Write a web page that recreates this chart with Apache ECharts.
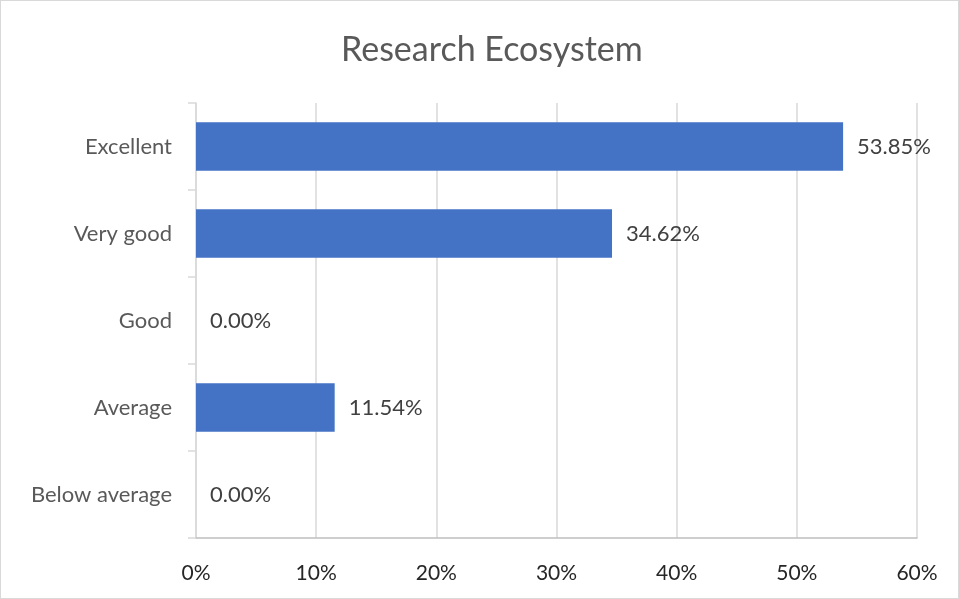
<!DOCTYPE html>
<html><head><meta charset="utf-8">
<script src="https://cdn.jsdelivr.net/npm/echarts@6/dist/echarts.min.js"></script>
<style>html,body{margin:0;padding:0;background:#fff}#c{width:957px;height:597px;border:1px solid #d9d9d9}</style>
</head><body><div id="c"></div>
<script>
const categories = ['Excellent', 'Very good', 'Good', 'Average', 'Below average'];
const values = [53.85, 34.62, 0.00, 11.54, 0.00];
const xTicks = [0, 10, 20, 30, 40, 50, 60];
const title = 'Research Ecosystem';

const chart = echarts.init(document.getElementById('c'), null, {renderer: 'canvas'});
const font = "Lato, 'Open Sans', sans-serif";
chart.setOption({
  animation: false,
  title: {text: title, left: 335, top: 27,
    textStyle: {fontFamily: font, fontSize: 34, fontWeight: 'normal', color: '#595959'}},
  grid: {left: 195, right: 41, top: 102, bottom: 60, containLabel: false},
  xAxis: {type: 'value', min: xTicks[0], max: xTicks[xTicks.length - 1], interval: 10,
    axisLine: {show: true, lineStyle: {color: '#bfbfbf', width: 1.5}},
    axisTick: {show: false},
    splitLine: {show: true, lineStyle: {color: '#d9d9d9', width: 1.5}},
    axisLabel: {formatter: v => v + '%', margin: 25, fontFamily: font, fontSize: 21, color: '#262626'}},
  yAxis: {type: 'category', data: categories, inverse: true,
    axisLine: {show: true, lineStyle: {color: '#d9d9d9', width: 1.5}},
    axisTick: {show: true, length: 8, lineStyle: {color: '#d9d9d9', width: 1.5}},
    axisLabel: {margin: 24, fontFamily: font, fontSize: 22, color: '#595959'}},
  series: [{type: 'bar', data: values, barCategoryGap: '44%',
    itemStyle: {color: '#4472c4'},
    label: {show: true, position: 'right', distance: 14, formatter: p => p.value.toFixed(2) + '%',
      fontFamily: font, fontSize: 22, color: '#404040'}}]
});
</script></body></html>
